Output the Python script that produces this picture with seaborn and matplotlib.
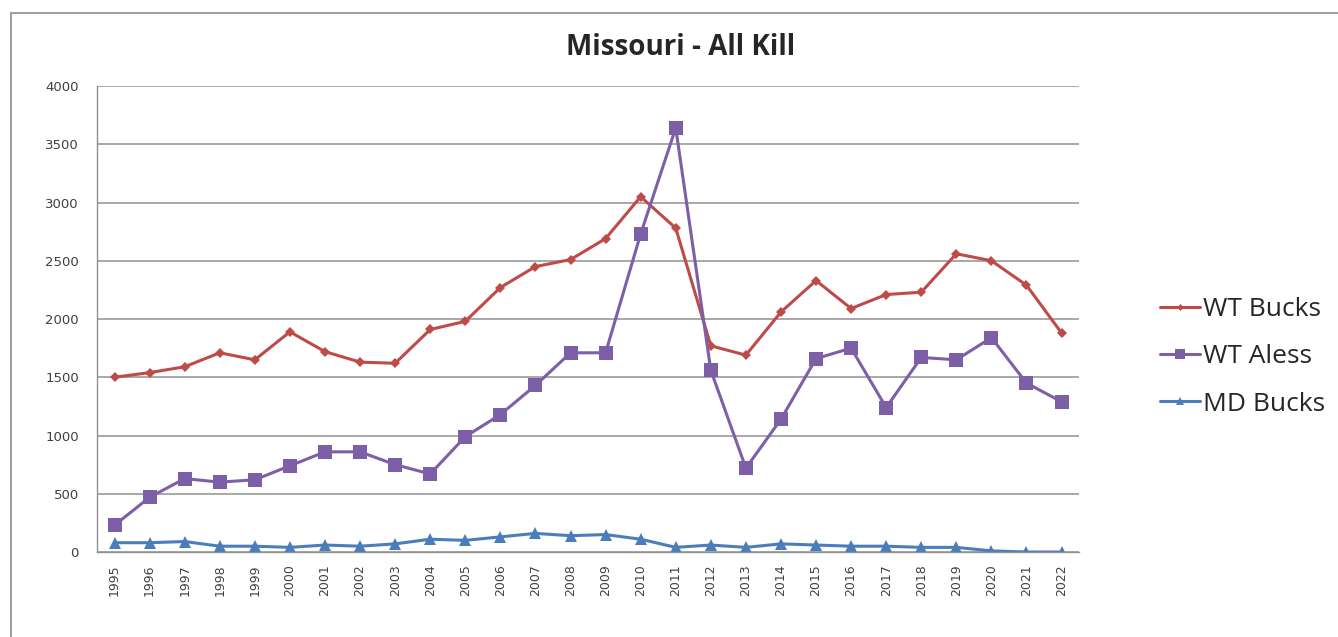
import pandas as pd
import numpy as np
import matplotlib
matplotlib.use('Agg')
import matplotlib.pyplot as plt
import seaborn as sns
from matplotlib.patches import Rectangle

# Dados
anos = list(range(1995, 2023))
wt_bucks = [1500, 1540, 1590, 1710, 1650, 1890, 1720, 1630, 1620, 1910, 1980, 2270, 2450, 2510,
            2690, 3050, 2780, 1770, 1690, 2060, 2330, 2090, 2210, 2230, 2560, 2500, 2290, 1880]
wt_aless = [230, 470, 630, 600, 620, 740, 860, 860, 750, 670, 990, 1180, 1430, 1710,
            1710, 2730, 3640, 1560, 720, 1140, 1660, 1750, 1240, 1670, 1650, 1840, 1450, 1290]
md_bucks = [80, 80, 90, 50, 50, 40, 60, 50, 70, 110, 100, 130, 160, 140,
            150, 110, 40, 60, 40, 70, 60, 50, 50, 40, 40, 10, 0, 0]
series = ['WT Bucks', 'WT Aless', 'MD Bucks']

df = pd.DataFrame({'ano': anos, 'WT Bucks': wt_bucks, 'WT Aless': wt_aless, 'MD Bucks': md_bucks})
df_long = df.melt(id_vars='ano', var_name='serie', value_name='valor')

sns.set_style('white')
plt.rcParams['font.family'] = ['Open Sans', 'DejaVu Sans']

cores = {'WT Bucks': '#BE4B48', 'WT Aless': '#7D5FA8', 'MD Bucks': '#4A7EBB'}
marcadores = {'WT Bucks': 'D', 'WT Aless': 's', 'MD Bucks': '^'}
tamanhos = {'WT Bucks': 5, 'WT Aless': 10, 'MD Bucks': 8}

fig = plt.figure(figsize=(13.38, 6.37), dpi=100)
ax = fig.add_axes([0.0725, 0.1334, 0.734, 0.7316])

for s in series:
    sub = df_long[df_long['serie'] == s]
    sns.lineplot(data=sub, x='ano', y='valor', ax=ax, color=cores[s], marker=marcadores[s],
                 markersize=tamanhos[s], markeredgewidth=0, linewidth=2.2, label=s)

ax.set_xlim(1994.5, 2022.5)
ax.set_ylim(0, 4000)
ax.set_yticks(np.arange(0, 4001, 500))
ax.set_xticks(anos)
ax.set_xticklabels([str(a) for a in anos], rotation=90, fontsize=9, color='#404040',
                   family=['DejaVu Sans'])
for t in ax.get_yticklabels():
    t.set_family(['DejaVu Sans'])
ax.set_xticks(np.arange(1994.5, 2023, 1), minor=True)
ax.tick_params(axis='x', which='major', length=0, pad=9)
ax.tick_params(axis='x', which='minor', length=4, color='#c8a898', width=0.8)
ax.tick_params(axis='y', labelsize=9.5, labelcolor='#404040', length=6, color='#909090', pad=7)
ax.grid(axis='y', color='#a8a8a8', linewidth=1.4)
ax.set_axisbelow(True)
for lado in ['top', 'right']:
    ax.spines[lado].set_visible(False)
for lado in ['left', 'bottom']:
    ax.spines[lado].set_color('#909090')
    ax.spines[lado].set_linewidth(1.0)
ax.set_xlabel('')
ax.set_ylabel('')

fig.text(0.509, 0.925, 'Missouri - All Kill', ha='center', va='center', fontsize=20, fontweight='bold')

handles, labels = ax.get_legend_handles_labels()
ax.get_legend().remove()
fig.legend(handles, labels, loc='center left', bbox_to_anchor=(0.8495, 0.44),
           bbox_transform=fig.transFigure, frameon=False, fontsize=19,
           handlelength=1.5, handletextpad=0.1, labelspacing=0.85, markerscale=0.7)

# Moldura externa
fig.patches.append(Rectangle((11 / 1338, -0.05), 1.2, 1 - 13 / 637 + 0.05, transform=fig.transFigure,
                             fill=False, edgecolor='#a0a0a0', linewidth=1.5))

fig.savefig('out.png', dpi=100)
